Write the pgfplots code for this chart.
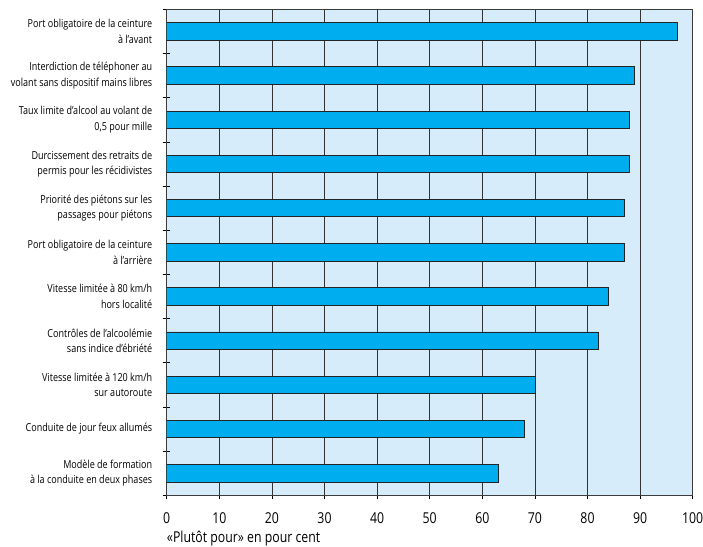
\documentclass[border=0pt]{standalone}
\usepackage{fontspec}
\setmainfont{Open Sans}[FakeStretch=0.82]
\usepackage{pgfplots}
\pgfplotsset{compat=1.18}
\definecolor{bgblue}{RGB}{214,236,250}
\definecolor{barblue}{RGB}{0,174,239}
\definecolor{bardark}{RGB}{35,35,35}
\definecolor{framec}{RGB}{60,60,60}
\begin{document}
\begin{tikzpicture}
\begin{axis}[
  scale only axis,
  width=526pt, height=486pt,
  xmin=0, xmax=100,
  ymin=-0.5, ymax=10.5,
  y dir=reverse,
  axis background/.style={fill=bgblue},
  axis line style={framec, line width=0.8pt},
  xtick={0,10,...,100},
  xmajorgrids,
  grid style={black!80, line width=0.7pt},
  tick align=outside,
  major tick length=4pt,
  minor tick length=7pt,
  tick style={black, line width=0.6pt},
  every minor tick/.style={xshift=3pt},
  xtick pos=bottom,
  ytick pos=left,
  ytick={0,...,10},
  minor ytick={-0.5,0.5,...,10.5},
  every major y tick/.style={draw=none},
  /pgf/number format/assume math mode=true,
  xticklabel style={font=\fontsize{15}{18}\selectfont, yshift=-10pt},
  yticklabel style={align=right, font=\fontsize{11}{15.5}\selectfont, xshift=-7pt},
  yticklabels={
    {Port obligatoire de la ceinture\\à l’avant},
    {Interdiction de téléphoner au\\volant sans dispositif mains libres},
    {Taux limite d’alcool au volant de\\0,5 pour mille},
    {Durcissement des retraits de\\permis pour les récidivistes},
    {Priorité des piétons sur les\\passages pour piétons},
    {Port obligatoire de la ceinture\\à l’arrière},
    {Vitesse limitée à 80 km/h\\hors localité},
    {Contrôles de l’alcoolémie\\sans indice d’ébriété},
    {Vitesse limitée à 120 km/h\\sur autoroute},
    {Conduite de jour feux allumés},
    {Modèle de formation\\à la conduite en deux phases}
  },
  xlabel={«Plutôt pour» en pour cent},
  xlabel style={at={(axis description cs:0,0)}, anchor=base west, yshift=-47pt, inner sep=0pt, font=\fontsize{15}{18}\selectfont},
]
\addplot[xbar, bar width=17.5pt, fill=barblue, draw=bardark, line width=0.8pt]
  coordinates {(97,0) (89,1) (88,2) (88,3) (87,4) (87,5) (84,6) (82,7) (70,8) (68,9) (63,10)};
\end{axis}
\pgfresetboundingbox
\path ([shift={(-166.7pt,-51pt)}]current axis.south west) rectangle ([shift={(10.3pt,9.3pt)}]current axis.north east);
\end{tikzpicture}
\end{document}
